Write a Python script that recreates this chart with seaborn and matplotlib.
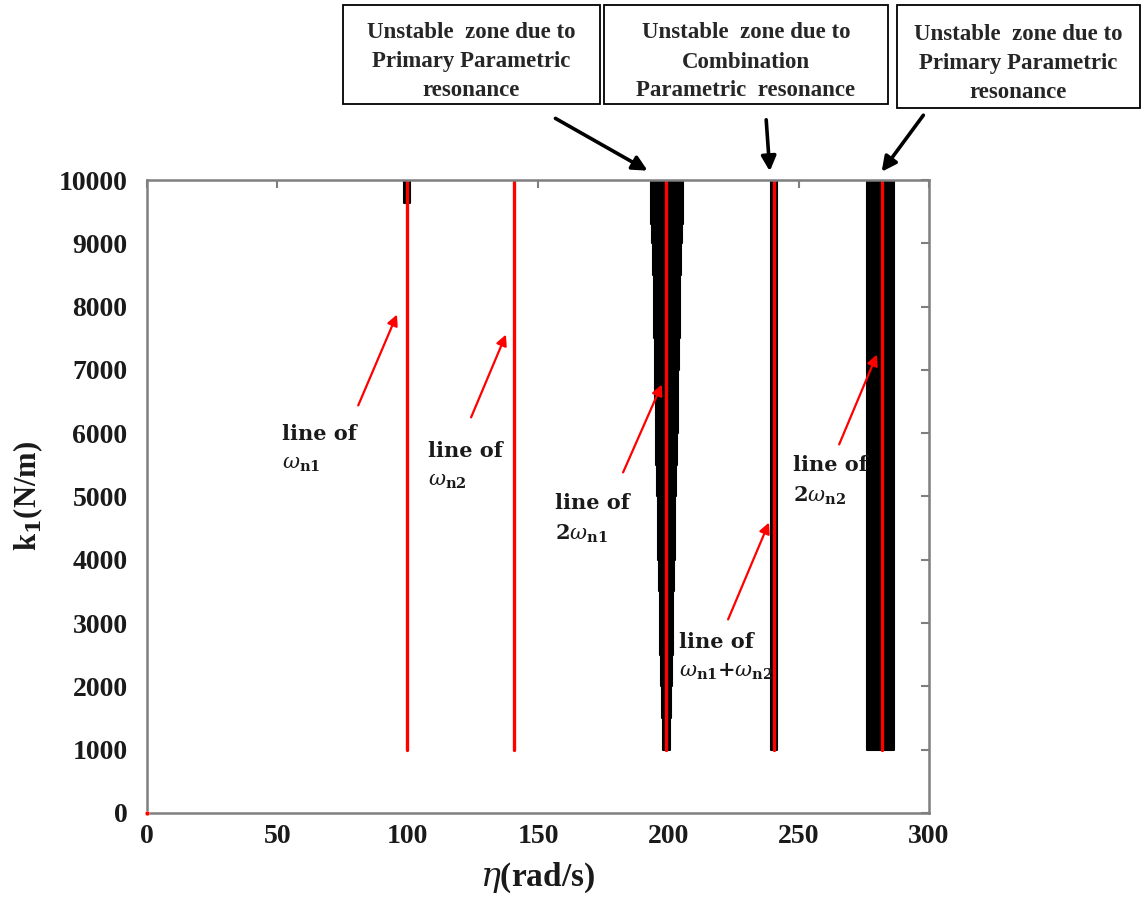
import numpy as np
import pandas as pd
import matplotlib
matplotlib.use("Agg")
import matplotlib.pyplot as plt
from matplotlib.patches import Rectangle, FancyArrowPatch
import seaborn as sns

# natural frequency lines (rad/s)
line_names = ["wn1", "wn2", "2wn1", "wn1+wn2", "2wn2"]
line_eta = [99.6, 140.9, 199.2, 240.5, 281.8]
line_k1 = [1000, 10000]

# unstable zone around 2*wn1 (tapered, stepped)
zone1_k1 = [1000, 1500, 2000, 2500, 3000, 3500, 4000, 4500, 5000, 5500,
            6000, 6500, 7000, 7500, 8000, 8500, 9000, 9300, 10000]
zone1_left = [197.9, 197.6, 197.2, 196.9, 196.7, 196.3, 196.1, 195.9, 195.6, 195.4,
              195.1, 194.9, 194.7, 194.6, 194.3, 194.1, 193.9, 193.3, 193.3]
zone1_right = [200.5, 200.9, 201.3, 201.6, 201.9, 202.1, 202.4, 202.7, 203.0, 203.3,
               203.6, 203.8, 204.0, 204.3, 204.6, 204.8, 205.1, 205.7, 205.7]

# other unstable zones: (eta_left, eta_right, k1_low, k1_high)
zone_wn1 = [98.5, 100.7, 9630, 10000]
zone_sum = [239.2, 241.8, 1000, 10000]
zone_2wn2 = [276.3, 286.7, 1000, 10000]

xticks = [0, 50, 100, 150, 200, 250, 300]
yticks = [0, 1000, 2000, 3000, 4000, 5000, 6000, 7000, 8000, 9000, 10000]

# label texts and arrow (tail -> head) in data coords
labels = [r"line of" + "\n" + r"$\omega_{\mathbf{n1}}$",
          r"line of" + "\n" + r"$\omega_{\mathbf{n2}}$",
          r"line of" + "\n" + r"$\mathbf{2}\omega_{\mathbf{n1}}$",
          r"line of" + "\n" + r"$\omega_{\mathbf{n1}}\mathbf{+}\omega_{\mathbf{n2}}$",
          r"line of" + "\n" + r"$\mathbf{2}\omega_{\mathbf{n2}}$"]
label_xy = [(51.8, 6150), (107.8, 5880), (156.5, 5050), (204.0, 2860), (247.8, 5650)]
arrow_tail = [(80.6, 6398), (123.9, 6209), (182.2, 5340), (222.5, 3017), (265.1, 5782)]
arrow_head = [(96.3, 7915), (138.1, 7599), (197.9, 6809), (239.0, 4629), (280.4, 7283)]

box_texts = ["Unstable  zone due to\nPrimary Parametric\nresonance",
             "Unstable  zone due to\nCombination\nParametric  resonance",
             "Unstable  zone due to\nPrimary Parametric\nresonance"]

sns.set_theme(style="white")
plt.rcParams["font.family"] = ["Liberation Serif", "DejaVu Serif"]
plt.rcParams["mathtext.fontset"] = "dejavuserif"

fig = plt.figure(figsize=(11.45, 9), dpi=100)
ax = fig.add_axes([0.1284, 0.0967, 0.6830, 0.7033])

# black unstable zones
ax.fill_betweenx(zone1_k1, zone1_left, zone1_right, step="post", color="black", lw=1.5,
                 edgecolor="black")
for z in [zone_wn1, zone_sum, zone_2wn2]:
    ax.fill_betweenx([z[2], z[3]], z[0], z[1], color="black", lw=1.5, edgecolor="black")

# red lines
df = pd.DataFrame({
    "eta": [e for e in line_eta for _ in line_k1],
    "k1": line_k1 * len(line_eta),
    "line": [n for n in line_names for _ in line_k1],
})
sns.lineplot(data=df, x="eta", y="k1", units="line", estimator=None, sort=False,
             color="red", lw=2.4, ax=ax, legend=False)
sns.scatterplot(x=[0], y=[0], color="red", s=12, ax=ax, zorder=5, clip_on=False)

ax.set_xlim(0, 300)
ax.set_ylim(0, 10000)
ax.set_xticks(xticks)
ax.set_yticks(yticks)
ax.set_xticklabels([str(v) for v in xticks], fontsize=20, fontweight="bold", color="#1a1a1a")
ax.set_yticklabels([str(v) for v in yticks], fontsize=20, fontweight="bold", color="#1a1a1a")
ax.tick_params(direction="in", top=True, right=True, length=6, width=1.5,
               color="#7f7f7f")
ax.tick_params(axis="y", pad=14)
ax.tick_params(axis="x", pad=8)
for s in ax.spines.values():
    s.set_color("#7f7f7f")
    s.set_linewidth(1.8)
    s.set_visible(True)

ax.set_xlabel(r"$\eta$(rad/s)", fontsize=24, fontweight="bold", labelpad=8,
              color="#1a1a1a")
ax.set_ylabel(r"k$_{\mathbf{1}}$(N/m)", fontsize=22, fontweight="bold", labelpad=10,
              color="#1a1a1a")

# red annotations
for txt, xy, t, h in zip(labels, label_xy, arrow_tail, arrow_head):
    ax.text(xy[0], xy[1], txt, fontsize=15, fontweight="bold", ha="left", va="top",
            linespacing=1.55, color="#1a1a1a", family="DejaVu Serif")
    ax.annotate("", xy=h, xytext=t,
                arrowprops=dict(arrowstyle="-|>", color="red", lw=1.6,
                                mutation_scale=16))

# boxes on top
box_rects = [(343, 5, 600, 104), (604, 5, 888, 104), (897, 5, 1140, 108)]
for (x0, y0, x1, y1), txt in zip(box_rects, box_texts):
    fig.patches.append(Rectangle((x0 / 1145, 1 - y1 / 900), (x1 - x0) / 1145,
                                 (y1 - y0) / 900, transform=fig.transFigure,
                                 fill=False, edgecolor="black", lw=1.3))
    fig.text((x0 + x1) / 2 / 1145, 1 - (y0 + y1 + 15) / 2 / 900, txt, ha="center",
             va="center", fontsize=16.5, fontweight="bold", linespacing=1.5)

# black arrows from boxes to zones
black_arrows = [((553, 117), (650, 172)), ((766, 117), (770, 174)),
                ((925, 113), (880, 174))]
for t, h in black_arrows:
    fig.add_artist(FancyArrowPatch(
        (t[0] / 1145, 1 - t[1] / 900), (h[0] / 1145, 1 - h[1] / 900),
        transform=fig.transFigure, arrowstyle="-|>", mutation_scale=22,
        color="black", lw=2.6))

fig.savefig("out.png", dpi=100)
